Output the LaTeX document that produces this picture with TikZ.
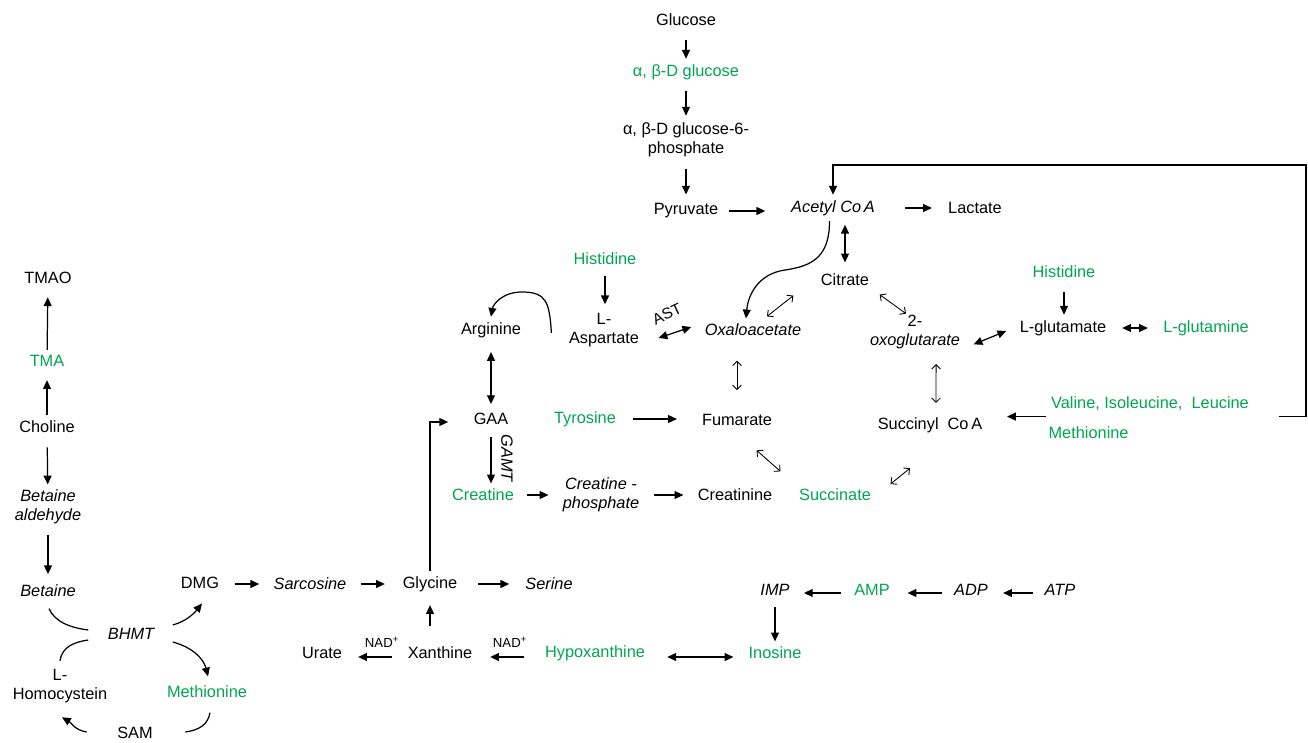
\documentclass[tikz,border=0pt]{standalone}
\usepackage{fontspec}
\setmainfont{Liberation Sans}
\usepackage{xcolor}
\usepackage{tikz}
\usetikzlibrary{arrows.meta,calc}
\definecolor{metgreen}{RGB}{0,166,81}

\begin{document}
\begin{tikzpicture}[x=0.02cm, y=-0.02cm,
  every node/.style={font=\fontsize{9.3}{10.6}\selectfont, inner sep=3pt, align=center},
  gr/.style={text=metgreen},
  it/.style={font=\fontsize{9.3}{10.6}\selectfont\itshape},
  small/.style={font=\fontsize{7.5}{9}\selectfont, inner sep=1pt},
  ar/.style={-{Triangle[length=5pt,width=4.5pt]}, line width=0.7pt},
  dar/.style={{Triangle[length=5pt,width=4.5pt]}-{Triangle[length=5pt,width=4.5pt]}, line width=0.7pt},
  oar/.style={{Straight Barb[length=2.5pt,width=5pt]}-{Straight Barb[length=2.5pt,width=5pt]}, line width=0.5pt},
  ln/.style={line width=0.7pt}]
% Background
\fill[white] (0,0) rectangle (1308,743);
\useasboundingbox (0,0) rectangle (1308,743);

% Glucose
\node (glc) at (686,20) {Glucose};
\node[gr] (aglc) at (686,72) {α, β-D glucose};
\node (g6p) at (686,140) {α, β-D glucose-6-\\phosphate};
\node (pyr) at (686,211) {Pyruvate};
\node[it] (acoa) at (833,208) {Acetyl Co\,A};
\node (lac) at (975,208) {Lactate};

% TCA cycle
\node (cit) at (845,280) {Citrate};
\node[it] (oxa) at (753,330) {Oxaloacetate};
\node (oxg) at (915,332) {2-\\\textit{oxoglutarate}};
\node (fum) at (737,420) {Fumarate};
\node[gr] (suc) at (835,495) {Succinate};
\node (scoa) at (930,425) {Succinyl\ \ Co\,A};

% Amino acids
\node[gr] (his1) at (605,259) {Histidine};
\node (asp) at (604,330) {L-\\Aspartate};
\node (arg) at (491,330) {Arginine};
\node[gr] (his2) at (1064,272) {Histidine};
\node (glu) at (1063,328) {L-glutamate};
\node[gr] (gln) at (1206,328) {L-glutamine};
\node[gr] (tyr) at (585,419) {Tyrosine};
\node[gr] (val) at (1150,404) {Valine, Isoleucine,\ \ Leucine};
\node[gr, anchor=west] (met2) at (1043,433) {Methionine};

% Creatine
\node (gaa) at (491,419) {GAA};
\node[gr] (cre) at (483,495) {Creatine};
\node[it] (crp) at (601,495) {Creatine -\\phosphate};
\node (crn) at (735,495) {Creatinine};

% Choline and betaine
\node (tmao) at (48,278) {TMAO};
\node[gr] (tma) at (47,361) {TMA};
\node (cho) at (47,427) {Choline};
\node[it] (bald) at (48,507) {Betaine\\aldehyde};
\node[it] (bet) at (48,591) {Betaine};
\node[it] (bhmt) at (131,634) {BHMT};
\node (hcy) at (60,686) {L-\\Homocystein};
\node[gr] (met1) at (207,692) {Methionine};
\node (sam) at (135,733) {SAM};
\node (dmg) at (200,583) {DMG};
\node[it] (sar) at (310,584) {Sarcosine};
\node (gly) at (430,584) {Glycine};
\node[it] (ser) at (549,584) {Serine};

% Purines
\node (urt) at (322,653) {Urate};
\node (xan) at (440,653) {Xanthine};
\node[gr] (hyp) at (595,653) {Hypoxanthine};
\node[gr] (ino) at (775,653) {Inosine};
\node[it] (imp) at (775,590) {IMP};
\node[gr] (amp) at (872,590) {AMP};
\node[it] (adp) at (971,590) {ADP};
\node[it] (atp) at (1060,590) {ATP};

% Enzyme labels
\node[small] (nad1) at (382,642) {NAD\textsuperscript{+}};
\node[small] (nad2) at (510,642) {NAD\textsuperscript{+}};
\node[rotate=25, inner sep=0pt, font=\fontsize{8.8}{10}\selectfont] (ast) at (667,314) {AST};
\node[it, rotate=-90, inner sep=1pt] (gamt) at (507,458) {GAMT};

% Glycolysis arrows
\draw[ar, shorten <=5pt] (glc) -- (aglc);
\draw[ar, shorten <=3pt, shorten >=1pt] (aglc) -- (g6p);
\draw[ar, shorten <=3.5pt, shorten >=2pt] (g6p) -- (pyr);
\draw[ar, shorten <=2.8pt, shorten >=11.6pt] (pyr.east) -- (pyr.east -| acoa.west);
\draw[ar, shorten <=13.9pt, shorten >=6.1pt] (acoa.east) -- (acoa.east -| lac.west);
\coordinate (fbr) at (1306,165);
\draw[ar, line width=0.6pt] ([xshift=14pt]val.south east) -| (fbr) -| (acoa.north);

% TCA arrows
\draw[dar, shorten <=2pt, shorten >=3.4pt] (cit.north |- acoa.south) -- (cit.north);
\draw[ar] ([xshift=-2pt]acoa.south) .. controls +(0,35) and +(28,-4) .. (785,270)
  .. controls +(-28,4) and +(2,-22) .. ([xshift=-4pt]oxa.north);
\draw[oar] ([shift={(14,-2)}]oxa.north) -- ([shift={(-22,4)}]cit.south west);
\draw[oar] ([shift={(5,3)}]cit.south east) -- ([shift={(-9,4)}]oxg.north);
\draw[dar] ([shift={(8,-10)}]oxg.south east) -- ([shift={(-8,3)}]glu.west);
\draw[oar, shorten <=10.8pt, shorten >=10.6pt] (fum.north |- oxa.south) -- (fum.north);
\draw[oar, shorten <=5.5pt, shorten >=5pt] ([xshift=12pt]oxg.south) -- ([xshift=3.4pt]scoa.north);
\draw[oar] ([shift={(-21,19)}]fum.south east) -- ([shift={(-13,-12)}]suc.north west);
\draw[oar] ([shift={(14,-11)}]suc.east) -- ([shift={(-20,30)}]scoa.south);
\draw[ar, shorten >=10.9pt] (val.south west) -- (val.south west -| scoa.east);

% Amino acid arrows
\draw[ar, shorten <=3pt, shorten >=2pt] (his1.south) -- (his1.south |- asp.north);
\draw[dar] ([shift={(14,8)}]asp.east) -- ([shift={(-8,-3)}]oxa.west);
\draw[ar] ([shift={(-12,3)}]asp.west) .. controls +(-2,-30) and +(25,0) .. (522,292)
  .. controls +(-20,0) and +(2,-12) .. (arg.north);
\draw[dar, shorten <=5pt, shorten >=2pt] (arg) -- (gaa);
\draw[ar, shorten <=5pt] (his2.south) -- (his2.south |- glu.north);
\draw[dar, shorten <=5.9pt, shorten >=5.6pt] (glu.east) -- (glu.east -| gln.west);
\draw[ar, shorten <=6.4pt, shorten >=11.1pt] (tyr.east) -- (tyr.east -| fum.west);

% Creatine arrows
\draw[ar, shorten <=4pt] (gaa.south) -- (gaa.south |- cre.north);
\draw[ar, shorten <=4.5pt, shorten >=5pt] (cre.east) -- (cre.east -| crp.west);
\draw[ar, shorten <=5.5pt, shorten >=5pt] (crp.east) -- (crp.east -| crn.west);

% Choline arrows
\draw[ar, shorten >=4.5pt] (tma) -- (tmao);
\draw[ar, shorten >=4.5pt] (cho) -- (tma);
\draw[ar, shorten <=5pt] (cho) -- (bald);
\draw[ar, shorten <=3pt, shorten >=3pt] (bald) -- (bet);

% BHMT cycle
\draw[ln] ([shift={(1,6)}]bet.south) .. controls +(6,14) and +(-16,-2) .. ([shift={(-14,-4)}]bhmt.west);
\draw[ln] ([shift={(0,-3)}]hcy.north) .. controls +(2,-14) and +(-14,2) .. ([shift={(-14,6)}]bhmt.west);
\draw[ar] ([shift={(13,-9)}]bhmt.east) .. controls +(14,-4) and +(-8,10) .. ([shift={(2,9)}]dmg.south);
\draw[ar] ([shift={(13,8)}]bhmt.east) .. controls +(22,6) and +(-4,-16) .. ([shift={(1,-4)}]met1.north);
\draw[ln] ([shift={(3,9)}]met1.south) .. controls +(-2,12) and +(14,-2) .. ([shift={(27,-1)}]sam.east);
\draw[ar] ([shift={(-25,-1)}]sam.west) .. controls +(-12,-2) and +(10,6) .. ([shift={(2,9)}]hcy.south);

% Glycine arrows
\draw[ar, shorten <=5.7pt, shorten >=5pt] (sar.west -| dmg.east) -- (sar.west);
\draw[ar, shorten <=5pt, shorten >=7pt] (sar.east) -- (sar.east -| gly.west);
\draw[ar, shorten <=8.5pt, shorten >=6pt] (gly.east) -- (gly.east -| ser.west);
\draw[ar, shorten <=8.5pt, shorten >=4.5pt] (xan.north -| gly.south) -- (gly.south);
\draw[ar] (gly.north) |- ([shift={(-20,3)}]gaa.west);

% Purine arrows
\draw[ar, shorten <=5.7pt, shorten >=6pt] ([shift={(0,4)}]xan.west) -- ([shift={(0,4)}]xan.west -| urt.east);
\draw[ar, shorten <=8.5pt, shorten >=7pt] ([shift={(0,4)}]hyp.west) -- ([shift={(0,4)}]hyp.west -| xan.east);
\draw[dar, shorten <=9.5pt, shorten >=5.5pt] ([shift={(0,4)}]hyp.east) -- ([shift={(0,4)}]hyp.east -| ino.west);
\draw[ar, shorten <=3.5pt] (imp) -- (ino);
\draw[ar, shorten <=4.5pt, shorten >=5pt] ([shift={(0,3)}]amp.west) -- ([shift={(0,3)}]amp.west -| imp.east);
\draw[ar, shorten <=4pt, shorten >=7pt] ([shift={(0,3)}]adp.west) -- ([shift={(0,3)}]adp.west -| amp.east);
\draw[ar, shorten <=3.5pt, shorten >=5.5pt] ([shift={(0,3)}]atp.west) -- ([shift={(0,3)}]atp.west -| adp.east);
\end{tikzpicture}
\end{document}
